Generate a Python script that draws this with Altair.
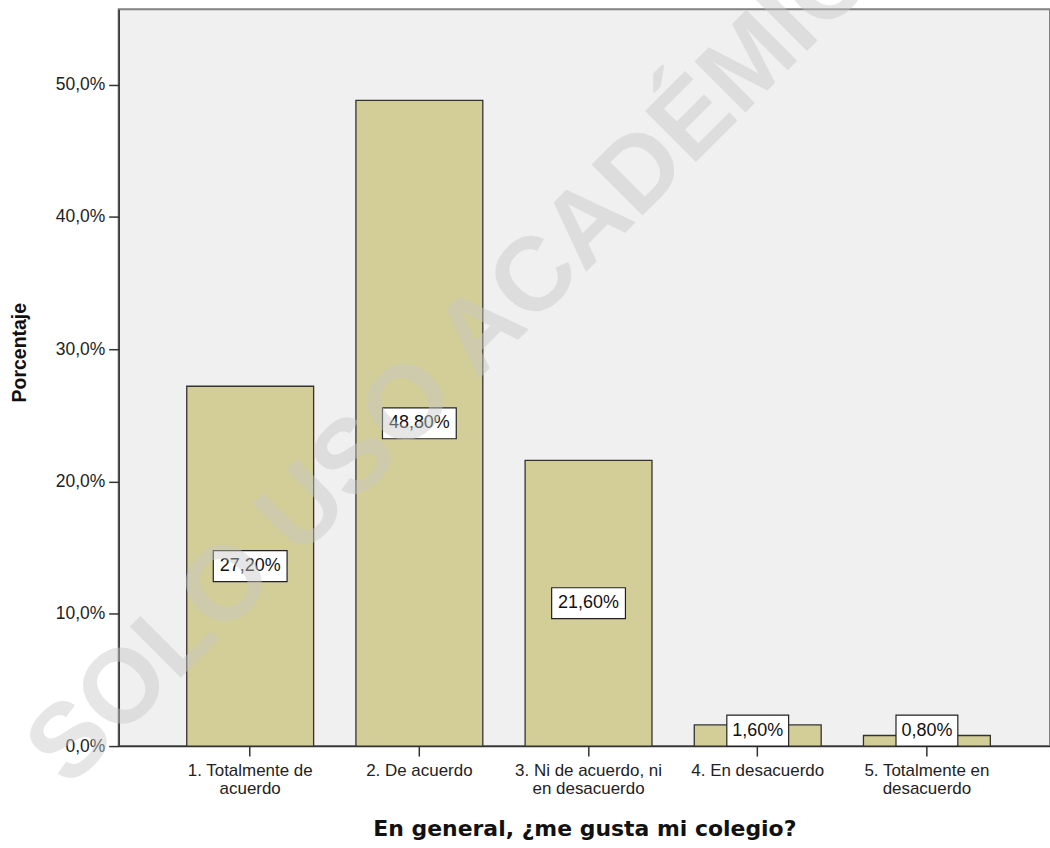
import altair as alt
import pandas as pd

# Survey answers and their share of respondents (%)
categories = [
    "1. Totalmente de acuerdo",
    "2. De acuerdo",
    "3. Ni de acuerdo, ni en desacuerdo",
    "4. En desacuerdo",
    "5. Totalmente en desacuerdo",
]
label_line1 = ["1. Totalmente de", "2. De acuerdo", "3. Ni de acuerdo, ni", "4. En desacuerdo", "5. Totalmente en"]
label_line2 = ["acuerdo", "", "en desacuerdo", "", "desacuerdo"]
percentages = [27.2, 48.8, 21.6, 1.6, 0.8]
y_ticks = [0, 10, 20, 30, 40, 50]

df = pd.DataFrame({"cat": categories, "pct": percentages})

# two-line tick labels for the category axis
label_expr = ""
for c, l1, l2 in zip(categories, label_line1, label_line2):
    lines = f"['{l1}', '{l2}']" if l2 else f"'{l1}'"
    label_expr += f"datum.value == '{c}' ? {lines} : "
label_expr += "datum.value"

x_scale = alt.Scale(domain=categories, paddingInner=0.25, paddingOuter=0.3775, align=0.533)
y_scale = alt.Scale(domain=[0, 55.7], nice=False, zero=True)

x_enc = alt.X(
    "cat:N",
    scale=x_scale,
    sort=categories,
    axis=alt.Axis(
        title="En general, ¿me gusta mi colegio?",
        labelAngle=0,
        labelExpr=label_expr,
        labelFont="Liberation Sans",
        labelFontSize=17,
        labelColor="#222222",
        labelLineHeight=17.5,
        labelPadding=7,
        tickSize=10,
        tickColor="#333333",
        tickWidth=1.5,
        domainColor="#333333",
        domainWidth=1.5,
        titleFont="DejaVu Sans",
        titleFontSize=22,
        titleFontWeight="bold",
        titleColor="#111111",
        titlePadding=22,
    ),
)

y_axis = alt.Axis(
    title="Porcentaje",
    values=y_ticks,
    labelExpr="replace(format(datum.value, '.1f'), '.', ',') + '%'",
    labelFont="Liberation Sans",
    labelFontSize=17.5,
    labelColor="#222222",
    labelPadding=4,
    tickSize=10,
    tickColor="#333333",
    tickWidth=1.5,
    domainColor="#333333",
    domainWidth=1.5,
    grid=False,
    titleFont="Liberation Sans",
    titleFontSize=19.5,
    titleFontWeight="bold",
    titleColor="#111111",
    titlePadding=26,
    titleY=344,
)

base = alt.Chart(df).transform_calculate(
    label="replace(format(datum.pct, '.2f'), '.', ',') + '%'",
    label_y="max(datum.pct / 2, 1.17)",
    nchar="length(replace(format(datum.pct, '.2f'), '.', ',') + '%')",
)

bars = base.mark_bar(color="#d3ce97", stroke="#333333", strokeWidth=1.3).encode(
    x=x_enc,
    y=alt.Y("pct:Q", scale=y_scale, axis=y_axis),
)

box_long = base.transform_filter("datum.nchar >= 6").mark_bar(
    width=74, fill="white", stroke="#222222", strokeWidth=1.2, yOffset=15.5, y2Offset=-15.5
).encode(
    x=alt.X("cat:N", sort=categories),
    y=alt.Y("label_y:Q", title="Porcentaje"),
    y2="label_y:Q",
)

box_short = base.transform_filter("datum.nchar < 6").mark_bar(
    width=62, fill="white", stroke="#222222", strokeWidth=1.2, yOffset=15.5, y2Offset=-15.5
).encode(
    x=alt.X("cat:N", sort=categories),
    y=alt.Y("label_y:Q", title="Porcentaje"),
    y2="label_y:Q",
)

labels = base.mark_text(font="Liberation Sans", fontSize=18, color="#111111", baseline="middle").encode(
    x=alt.X("cat:N", sort=categories),
    y=alt.Y("label_y:Q", title="Porcentaje"),
    text="label:N",
)

watermark = alt.Chart(pd.DataFrame({"t": ["SOLO USO ACADÉMICO"]})).mark_text(
    font="Liberation Sans",
    fontWeight="bold",
    fontSize=105,
    angle=315,
    color="#c8c8c8",
    opacity=0.45,
    align="center",
    baseline="middle",
).encode(
    text="t:N",
    x=alt.value(361),
    y=alt.value(326),
)

chart = (
    alt.layer(bars, box_long, box_short, labels, watermark)
    .properties(
        width=934,
        height=739,
        padding={"left": 119, "top": 8, "right": 0, "bottom": 101},
        autosize=alt.AutoSizeParams(type="none"),
        background="white",
    )
    .configure_view(fill="#f0f0f0", stroke="#808080", strokeWidth=2)
)

chart.save("out.html", embed_options={"renderer": "svg", "actions": False})
